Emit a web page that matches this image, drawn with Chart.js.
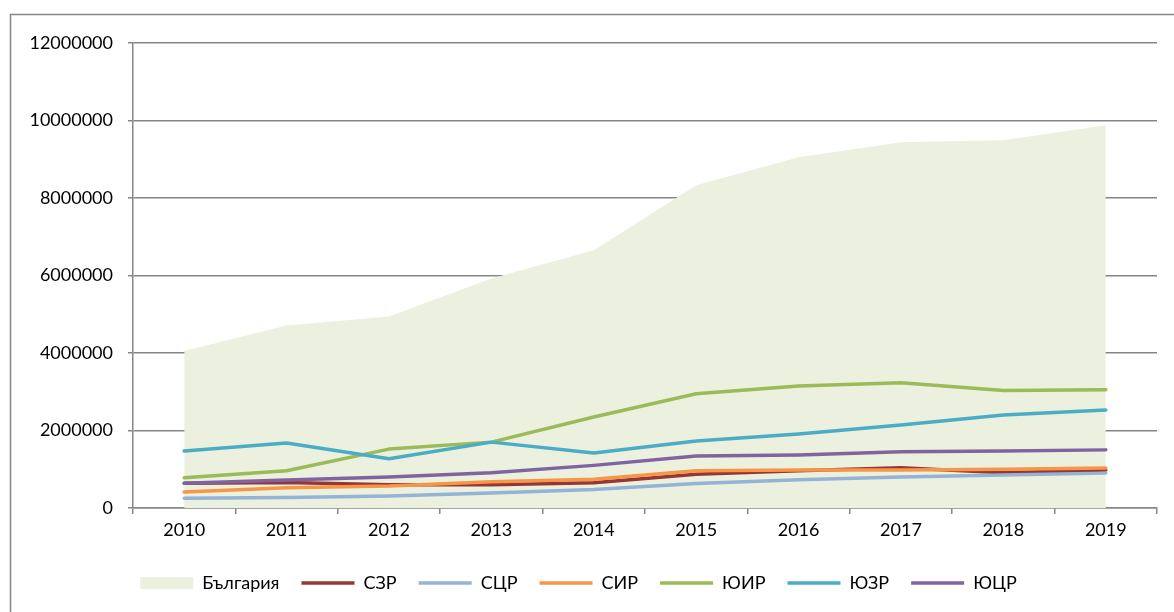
<!DOCTYPE html>
<html>
<head>
<meta charset="utf-8">
<script src="https://cdn.jsdelivr.net/npm/chart.js@4/dist/chart.umd.min.js"></script>
<style>
    html, body { margin: 0; padding: 0; background: #ffffff; }
    #wrap { width: 1174px; height: 612px; }
</style>
</head>
<body>
<div id="wrap"><canvas id="c" width="1174" height="612"></canvas></div>
<script>
// години
const years = ['2010', '2011', '2012', '2013', '2014', '2015', '2016', '2017', '2018', '2019'];

// стойности по региони (отчетени от графиката)
const bulgaria = [4050000, 4710000, 4940000, 5920000, 6650000, 8330000, 9050000, 9440000, 9490000, 9880000];
const szr = [640000, 660000, 600000, 600000, 650000, 870000, 960000, 1040000, 910000, 980000];
const scr = [250000, 270000, 310000, 390000, 480000, 630000, 730000, 800000, 850000, 900000];
const sir = [410000, 520000, 570000, 680000, 740000, 960000, 980000, 980000, 1000000, 1030000];
const yuir = [780000, 960000, 1520000, 1700000, 2350000, 2950000, 3150000, 3230000, 3030000, 3050000];
const yuzr = [1470000, 1680000, 1270000, 1700000, 1420000, 1730000, 1910000, 2140000, 2400000, 2530000];
const yucr = [640000, 720000, 800000, 910000, 1100000, 1340000, 1370000, 1450000, 1470000, 1500000];

const yTicks = [0, 2000000, 4000000, 6000000, 8000000, 10000000, 12000000];

const GRID = '#868686';
const FONT = 'Lato, "Open Sans", sans-serif';

function lineDs(label, data, color, order) {
    return {
        type: 'line',
        label,
        data,
        borderColor: color,
        backgroundColor: color,
        borderWidth: 3.5,
        borderCapStyle: 'round',
        borderJoinStyle: 'round',
        pointRadius: 0,
        pointStyle: 'line',
        tension: 0,
        fill: false,
        order,
    };
}

new Chart(document.getElementById('c').getContext('2d'), {
    type: 'line',
    data: {
        labels: years,
        datasets: [
            {
                label: 'България',
                data: bulgaria,
                backgroundColor: '#EBF1DE',
                borderWidth: 0,
                borderColor: 'rgba(0,0,0,0)',
                pointRadius: 0,
                pointStyle: 'rect',
                fill: 'origin',
                tension: 0,
                order: 10,
            },
            lineDs('СЗР', szr, '#953735', 6),
            lineDs('СЦР', scr, '#95B3D7', 5),
            lineDs('СИР', sir, '#F79646', 4),
            lineDs('ЮИР', yuir, '#9BBB59', 3),
            lineDs('ЮЗР', yuzr, '#4BACC6', 2),
            lineDs('ЮЦР', yucr, '#8064A2', 1),
        ],
    },
    options: {
        responsive: false,
        animation: false,
        devicePixelRatio: 1,
        layout: { padding: { top: 43, right: 17, left: 0, bottom: 10 } },
        plugins: {
            tooltip: { enabled: false },
            legend: {
                position: 'bottom',
                labels: {
                    usePointStyle: true,
                    pointStyleWidth: 53,
                    boxHeight: 12,
                    padding: 22,
                    color: '#000000',
                    font: { family: FONT, size: 18 },
                    sort: (a, b) => a.datasetIndex - b.datasetIndex,
                },
            },
        },
        scales: {
            x: {
                offset: true,
                grid: {
                    offset: true,
                    drawOnChartArea: false,
                    drawTicks: true,
                    tickLength: 6,
                    color: GRID,
                    lineWidth: 1.5,
                },
                border: { color: GRID, width: 1.5 },
                ticks: {
                    color: '#000000',
                    font: { family: FONT, size: 18 },
                    padding: 5,
                    maxRotation: 0,
                },
                afterFit(scale) { scale.height = 44; },
            },
            y: {
                min: 0,
                max: 12000000,
                afterBuildTicks(scale) { scale.ticks = yTicks.map((v) => ({ value: v })); },
                grid: {
                    color: GRID,
                    lineWidth: 1.5,
                    tickLength: 5,
                },
                border: { color: GRID, width: 1.5 },
                ticks: {
                    color: '#000000',
                    font: { family: FONT, size: 18 },
                    padding: 15,
                    callback: (v) => String(v),
                },
                afterFit(scale) { scale.width = 133; },
            },
        },
    },
    plugins: [
        {
            id: 'frameBg',
            beforeDraw(c) {
                const { ctx } = c;
                ctx.save();
                ctx.fillStyle = '#ffffff';
                ctx.fillRect(0, 0, c.width, c.height);
                ctx.strokeStyle = GRID;
                ctx.lineWidth = 1.5;
                ctx.strokeRect(10.5, 14.5, 1300, 800);
                ctx.restore();
            },
        },
    ],
});
</script>
</body>
</html>
